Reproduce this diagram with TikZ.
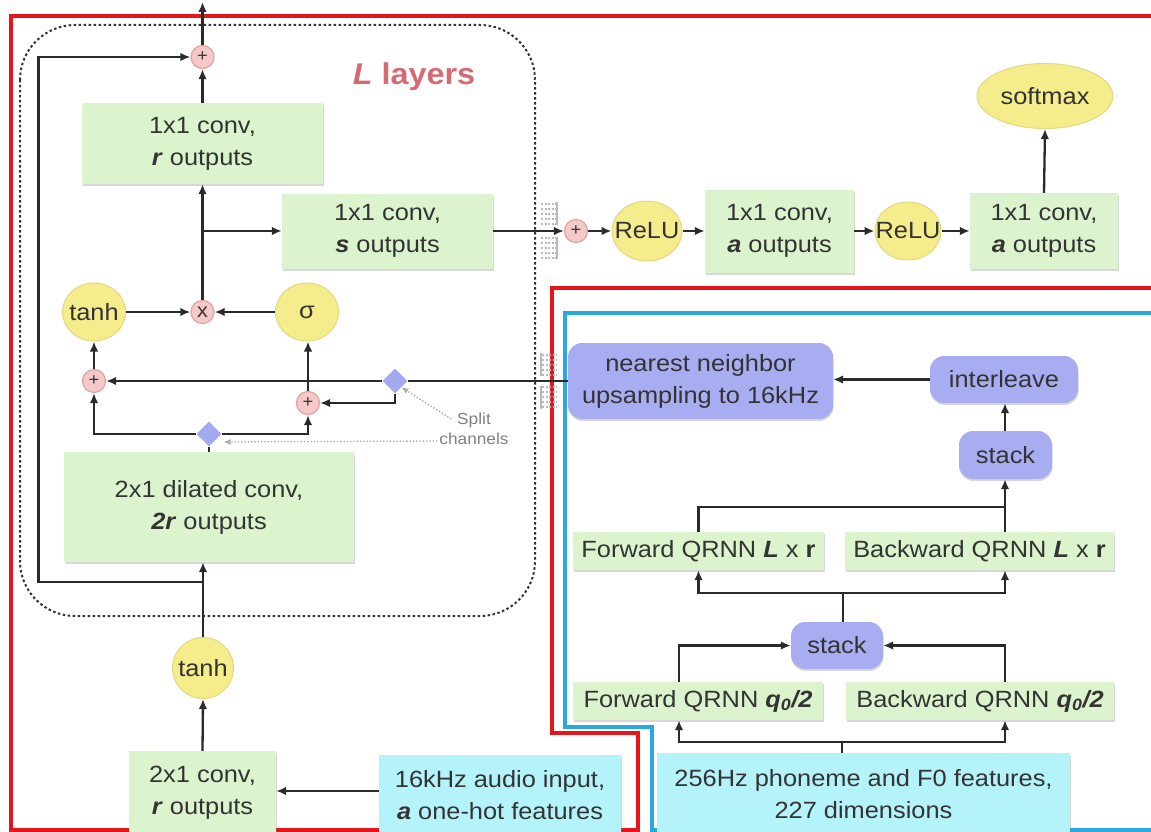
\documentclass[tikz,border=0pt]{standalone}
\usepackage{fontspec}
\setmainfont{Liberation Sans}[FakeStretch=1.08]
\usetikzlibrary{shapes.geometric,arrows.meta,shadows}
\definecolor{boxg}{HTML}{DCF4CE}
\definecolor{boxc}{HTML}{B4F3FA}
\definecolor{boxp}{HTML}{A8ADF2}
\definecolor{yel}{HTML}{F5EC8C}
\definecolor{yelb}{HTML}{E2D884}
\definecolor{pnk}{HTML}{F6C9C9}
\definecolor{pnkb}{HTML}{E3A0A0}
\definecolor{diac}{HTML}{A3AAF0}
\definecolor{redf}{HTML}{E8141C}
\definecolor{bluef}{HTML}{2AA8E0}
\definecolor{txt}{HTML}{333333}
\definecolor{lnc}{HTML}{2A2A2A}
\definecolor{lred}{HTML}{D56A72}
\newcommand\bv[1]{\textbf{\textit{#1}}}
\newcommand\zw[1]{\makebox[0pt][c]{#1}}
\newcommand\fmain{\fontsize{23.5}{32}\selectfont}
\begin{document}
\begin{tikzpicture}[x=1pt,y=-1pt,
 every node/.style={font=\fmain,text=txt},
 ln/.style={draw=lnc,line width=2.3pt},
 arr/.style={ln,-{Latex[length=10pt,width=8.5pt]}},
 gbox/.style={rectangle,fill=boxg,inner sep=0pt,align=center,drop shadow={shadow xshift=0.5pt,shadow yshift=-2pt,opacity=0.3,fill=black!50}},
 cbox/.style={gbox,fill=boxc},
 pbox/.style={gbox,fill=boxp,rounded corners=14pt},
 ybub/.style={ellipse,fill=yel,draw=yelb,line width=1pt,inner sep=0pt},
 opc/.style={circle,fill=pnk,draw=pnkb,line width=1.2pt,minimum size=23pt,inner sep=0pt,font=\fontsize{17}{17}\selectfont},
 dia/.style={diamond,fill=diac,minimum width=25pt,minimum height=25pt,inner sep=0pt},
 garr/.style={draw=gray!70,line width=1.3pt,dotted,-{Latex[open,length=7pt,width=6pt]}},
 comb/.style={draw=gray!55,line width=1.2pt,dash pattern=on 2pt off 1.5pt},
 combe/.style={draw=gray!55,line width=1.5pt},
]
\useasboundingbox (0,0) rectangle (1151,832);
\fill[white] (0,0) rectangle (1151,832);
% frames
\draw[redf,line width=3.5pt] (1155,16) -- (11,16) -- (11,830) -- (638,830) -- (638,733) -- (552,733) -- (552,288) -- (1155,288);
\draw[bluef,line width=3.5pt] (1155,313) -- (565,313) -- (565,727) -- (652,727) -- (652,830) -- (1155,830);
\draw[draw=black!80,line width=2pt,dash pattern=on 2.5pt off 2.5pt,rounded corners=55pt] (20,25) rectangle (535,616);
\node[text=lred,font=\fontsize{30}{30}\selectfont\bfseries] (ltitle) at (414,77) {\textit{L} layers};
% layer-stack marks
\foreach \yy in {204,209,214,219,224,238,243,248,253,258}{\draw[comb] (541,\yy) -- (556,\yy);}
\draw[combe] (557,202) -- (557,225);
\draw[combe] (557,237) -- (557,259);
\foreach \yy in {355,360,365,370,375,387,392,397,402,407}{\draw[comb] (542,\yy) -- (557,\yy);}
\draw[combe] (541,353) -- (541,376);
\draw[combe] (541,386) -- (541,409);
% nodes: WaveNet layer
\node[opc] (topplus) at (202.5,57) {+};
\coordinate (topout) at (202.5,2);
\node[gbox,minimum width=241pt,minimum height=81pt] (rconv) at (202.5,143.5) {1x1 conv,\\\bv{r} outputs};
\node[gbox,minimum width=211pt,minimum height=75pt] (sconv) at (387.5,231) {1x1 conv,\\\bv{s} outputs};
\node[ybub,minimum width=63pt,minimum height=58pt] (tanhA) at (94,312) {\zw{tanh}};
\node[opc,font=\fontsize{20}{20}\selectfont] (mult) at (202.5,312) {x};
\node[ybub,minimum width=63pt,minimum height=58pt] (sig) at (307,312) {\zw{σ}};
\node[opc] (plusL) at (94,381) {+};
\node[opc] (plusR) at (308,403) {+};
\node[dia] (diaU) at (395,381) {};
\node[dia] (diaD) at (209,434) {};
\node[gbox,minimum width=290pt,minimum height=110pt] (dil) at (209,507) {2x1 dilated conv,\\\bv{2r} outputs};
\node[text=gray,font=\fontsize{16}{20}\selectfont,align=center,inner sep=2pt] (split) at (474,429) {Split\\channels};
% input
\node[ybub,minimum width=61pt,minimum height=61pt] (tanhB) at (203,668) {\zw{tanh}};
\node[gbox,minimum width=147pt,minimum height=84pt] (conv2) at (202.5,793) {2x1 conv,\\\bv{r} outputs};
\node[cbox,minimum width=242pt,minimum height=80pt] (audio) at (500,795) {16kHz audio input,\\\bv{a} one-hot features};
% output stack
\node[opc] (plusO) at (576,231) {+};
\node[ybub,minimum width=70pt,minimum height=60pt] (relu1) at (647,231) {\zw{ReLU}};
\node[gbox,minimum width=149pt,minimum height=83pt] (aconv1) at (779.5,231) {1x1 conv,\\\bv{a} outputs};
\node[ybub,minimum width=66pt,minimum height=58pt] (relu2) at (908,231) {\zw{ReLU}};
\node[gbox,minimum width=148pt,minimum height=76pt] (aconv2) at (1044,231) {1x1 conv,\\\bv{a} outputs};
\node[ybub,minimum width=136pt,minimum height=65pt] (softmax) at (1045,96) {\zw{softmax}};
% conditioning network
\node[pbox,minimum width=265pt,minimum height=76pt] (ups) at (700.5,381) {nearest neighbor\\upsampling to 16kHz};
\node[pbox,minimum width=148pt,minimum height=47pt] (inter) at (1004,379.5) {interleave};
\node[pbox,minimum width=93pt,minimum height=48pt] (stackA) at (1005.5,455) {stack};
\node[gbox,minimum width=251pt,minimum height=38pt] (fL) at (698.5,551) {Forward QRNN \bv{L} x \textbf{r}};
\node[gbox,minimum width=269pt,minimum height=38pt] (bL) at (979.5,551) {Backward QRNN \bv{L} x \textbf{r}};
\node[pbox,minimum width=92pt,minimum height=47pt] (stackB) at (837,645.5) {stack};
\node[gbox,minimum width=250pt,minimum height=38pt] (fq) at (698,701) {Forward QRNN \bv{q\textsubscript{0}/2}};
\node[gbox,minimum width=268pt,minimum height=38pt] (bq) at (980,701) {Backward QRNN \bv{q\textsubscript{0}/2}};
\node[cbox,minimum width=413pt,minimum height=82pt] (feat) at (863.5,794) {256Hz phoneme and F0 features,\\227 dimensions};
\coordinate (j1) at (1005,507);
\coordinate (j2) at (843,593);
\coordinate (j3) at (842,742);
\coordinate (skj) at (203,582);
\coordinate (skl) at (38.5,582);
% connectors: layer
\draw[arr] (topplus.north) -- (topout);
\draw[arr] (rconv.north) -- (topplus.south);
\draw[arr] (skj) -- (skl) |- (topplus.west);
\draw[arr] (tanhB.north) -- (tanhB.north |- dil.south);
\draw[arr] (mult.north) -- (rconv.south);
\draw[arr] (mult.north |- sconv.west) -- (sconv.west);
\draw[arr] (tanhA.east) -- (mult.west);
\draw[arr] (sig.west) -- (mult.east);
\draw[arr] (plusL.north) -- (plusL.north |- tanhA.south);
\draw[arr] (plusR.north) -- (plusR.north |- sig.south);
\draw[ln] (ups.west) -- (diaU.east);
\draw[arr] (diaU.west) -- (plusL.east);
\draw[arr] (diaU.south) |- (plusR.east);
\draw[ln] (dil.north -| diaD.south) -- (diaD.south);
\draw[arr] (diaD.west) -| (plusL.south);
\draw[arr] (diaD.east) -| (plusR.south);
\draw[garr] ([xshift=14pt,yshift=-8pt]split.north west) -- (diaU.south east);
\draw[garr] ([yshift=-12pt]split.west) -- ([xshift=2pt,yshift=-8pt]diaD.east);
% connectors: input
\draw[arr] (conv2.north) -- (tanhB.south);
\draw[arr] ([yshift=4pt]audio.west) -- ([yshift=2pt]conv2.east);
% connectors: output
\draw[arr] (sconv.east) -- (plusO.west);
\draw[arr] (plusO.east) -- (relu1.west);
\draw[arr] (relu1.east) -- (aconv1.west);
\draw[arr] (aconv1.east) -- (relu2.west);
\draw[arr] (relu2.east) -- (aconv2.west);
\draw[arr] (aconv2.north) -- (softmax.south);
% connectors: conditioning
\draw[arr] (inter.west) -- (inter.west -| ups.east);
\draw[arr] (stackA.north -| j1) -- (inter.south -| j1);
\draw[ln] (fL.north) |- (j1);
\draw[arr] (j1 |- bL.north) -- (stackA.south -| j1);
\draw[ln] (stackB.north -| j2) -- (j2);
\draw[arr] (j2) -| (fL.south);
\draw[arr] (j2) -| (j1 |- bL.south);
\draw[arr] ([xshift=-19pt]fq.north) |- (stackB.west);
\draw[arr] (j1 |- bq.north) |- (stackB.east);
\draw[ln] (feat.north -| j3) -- (j3);
\draw[arr] (j3) -| ([xshift=-19pt]fq.south);
\draw[arr] (j3) -| (j1 |- bq.south);
\end{tikzpicture}
\end{document}
